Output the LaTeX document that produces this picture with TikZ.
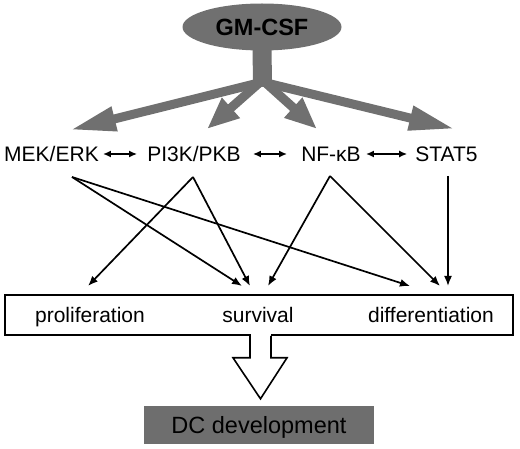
\documentclass[tikz,border=0pt]{standalone}
\usepackage{fontspec}
\setmainfont{Liberation Sans}
\usetikzlibrary{arrows.meta, positioning, calc, shapes.geometric}
\definecolor{gmgray}{HTML}{707070}
\definecolor{dcgray}{HTML}{6E6E6E}

\begin{document}
\begin{tikzpicture}[x=1pt, y=-1pt,
      kinase/.style={inner sep=1pt, text height=15pt, text depth=0pt, font=\fontsize{21}{24}\selectfont},
      fate/.style={inner sep=1pt, text height=15pt, text depth=0pt, font=\fontsize{21}{24}\selectfont},
      bigarr/.style={gmgray, line width=9pt},
      thinarr/.style={-{Latex[length=10pt,width=8pt]}, line width=1.7pt},
      dblarr/.style={{Latex[length=8pt,width=7pt]}-{Latex[length=8pt,width=7pt]}, line width=1.7pt}
    ]
      \useasboundingbox (0,0) rectangle (520,449);
      % ligand
      \node[ellipse, fill=gmgray, minimum width=159pt, minimum height=47pt, inner sep=0pt,
            font=\bfseries\fontsize{23.5}{26}\selectfont] (gm) at (262,27) {GM-CSF};
      \coordinate (hub) at (262.5,82);
      \draw[gmgray, line width=19pt] ([yshift=2pt]gm.south) -- (hub);

      % pathways
      \node[kinase] (mek)  at (51.5,154) {MEK/ERK};
      \node[kinase] (pi3k) at (194,154)  {PI3K/PKB};
      \node[kinase] (nfkb) at (331,154)  {NF-\char"03BA B};
      \node[kinase] (stat) at (446.5,154) {STAT5};

      \coordinate (mektip)  at (70,130);
      \coordinate (pi3ktip) at (207,129);
      \coordinate (nfkbtip) at (317,129);
      \coordinate (stattip) at (455,129);
      \draw[bigarr, -{Triangle[length=46pt,width=23pt]}] (hub) -- (mektip);
      \draw[bigarr, -{Triangle[length=46pt,width=23pt]}] (hub) -- (stattip);
      \draw[bigarr, -{Triangle[length=32pt,width=25pt]}] ([yshift=2pt]hub) -- (pi3ktip);
      \draw[bigarr, -{Triangle[length=32pt,width=25pt]}] ([yshift=2pt]hub) -- (nfkbtip);

      \draw[dblarr, shorten <=3pt, shorten >=9pt] (mek) -- (pi3k);
      \draw[dblarr, shorten <=11pt, shorten >=13pt] (pi3k) -- (nfkb);
      \draw[dblarr, shorten <=4pt, shorten >=7pt] (nfkb) -- (stat);

      % cell fates
      \node[draw, line width=1.6pt, minimum width=508pt, minimum height=40pt, inner sep=0pt] (box) at (259,315) {};
      \node[fate] (prolif) at (90,315)  {proliferation};
      \node[fate] (surv)   at (258,315) {survival};
      \node[fate] (diff)   at (431,315) {differentiation};

      \coordinate (mekout)  at (72,177);
      \coordinate (pi3kout) at (193,177);
      \coordinate (nfkbout) at (330,176);
      \coordinate (statout) at (448,176);
      \coordinate (prolin)  at (88,286);
      \coordinate (survin1) at (242,286);
      \coordinate (survin2) at (250,286);
      \coordinate (survin3) at (268,286);
      \coordinate (diffin1) at (410,286);
      \coordinate (diffin2) at (440,286);
      \coordinate (diffin3) at (448,286);
      \draw[thinarr] (mekout) -- (survin1);
      \draw[thinarr] (mekout) -- (diffin1);
      \draw[thinarr] (pi3kout) -- (prolin);
      \draw[thinarr] (pi3kout) -- (survin2);
      \draw[thinarr] (nfkbout) -- (survin3);
      \draw[thinarr] (nfkbout) -- (diffin2);
      \draw[thinarr] (statout) -- (diffin3);

      % outcome
      \node[fill=dcgray, minimum width=230pt, minimum height=38pt, inner sep=0pt,
            text height=17pt, text depth=0pt,
            font=\fontsize{23.5}{27}\selectfont] (dc) at (259,425) {DC development};
      \fill[white] ($(box.south)+(-8,2)$) rectangle ($(box.south)+(12,-2)$);
      \draw[line width=1.6pt, line join=miter]
        ($(box.south)+(-9,0)$) -- ++(0,22) -- ++(-17,0) -- ($(dc.north)+(1.5,-7)$)
        -- ($(box.south)+(28,22)$) -- ++(-16,0) -- ($(box.south)+(12,0)$);
    \end{tikzpicture}
\end{document}
